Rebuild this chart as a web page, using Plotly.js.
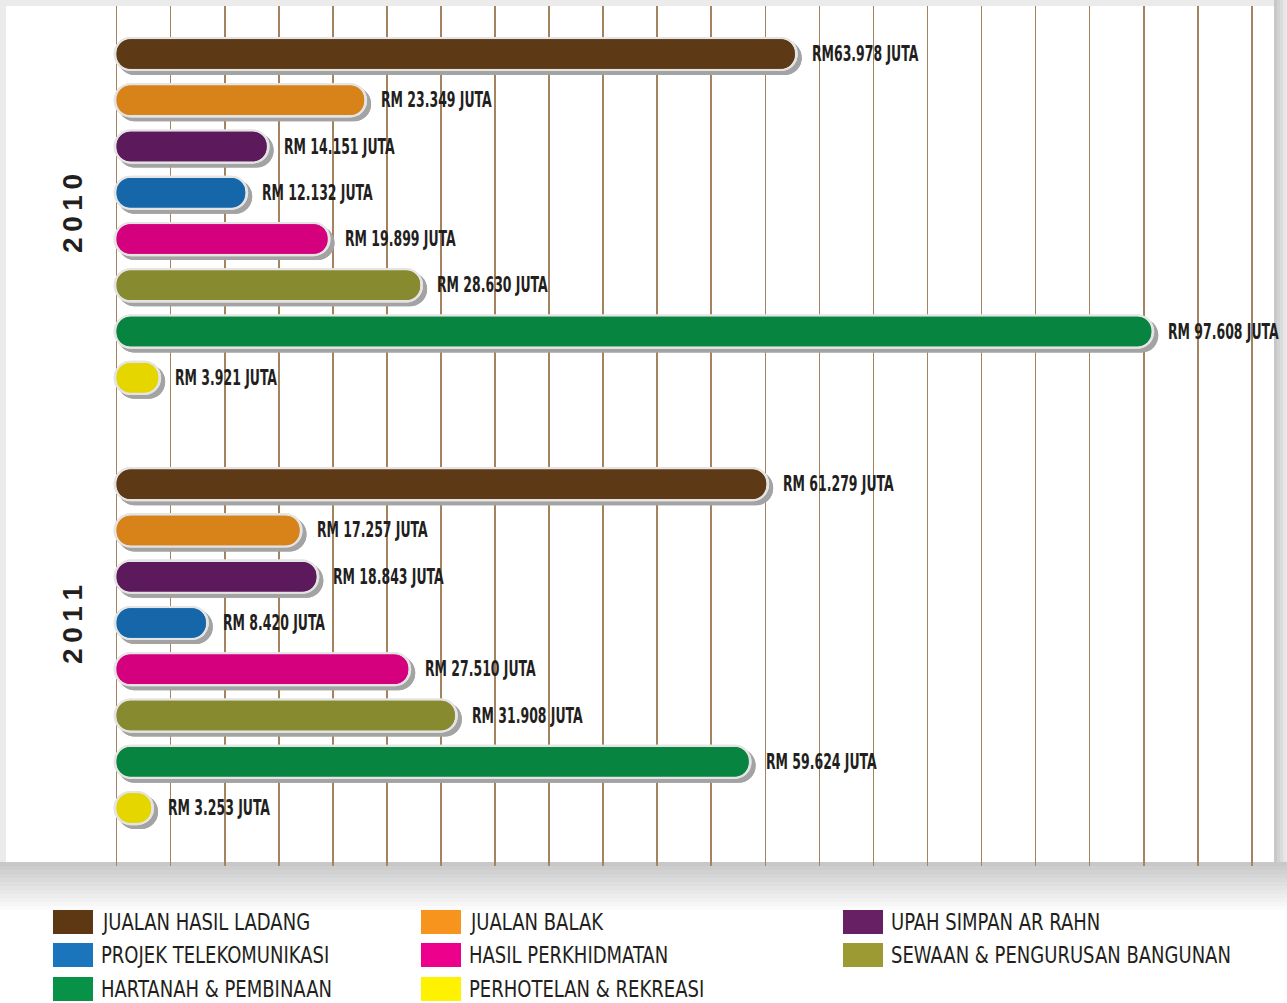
<!DOCTYPE html>
<html>
<head>
<meta charset="utf-8">
<script src="https://cdn.plot.ly/plotly-3.0.1.min.js"></script>
<style>
html,body{margin:0;padding:0;background:#fff;}
#chart{width:1287px;height:1003px;}
</style>
</head>
<body>
<div id="chart"></div>
<script>
// ---- data ----
const categories = ['JUALAN HASIL LADANG', 'JUALAN BALAK', 'UPAH SIMPAN AR RAHN', 'PROJEK TELEKOMUNIKASI',
  'HASIL PERKHIDMATAN', 'SEWAAN & PENGURUSAN BANGUNAN', 'HARTANAH & PEMBINAAN', 'PERHOTELAN & REKREASI'];
const years = ['2010', '2011'];
const values2010 = [63.978, 23.349, 14.151, 12.132, 19.899, 28.630, 97.608, 3.921];
const values2011 = [61.279, 17.257, 18.843, 8.420, 27.510, 31.908, 59.624, 3.253];
const labels2010 = ['RM63.978 JUTA', 'RM 23.349 JUTA', 'RM 14.151 JUTA', 'RM 12.132 JUTA',
  'RM 19.899 JUTA', 'RM 28.630 JUTA', 'RM 97.608 JUTA', 'RM 3.921 JUTA'];
const labels2011 = ['RM 61.279 JUTA', 'RM 17.257 JUTA', 'RM 18.843 JUTA', 'RM 8.420 JUTA',
  'RM 27.510 JUTA', 'RM 31.908 JUTA', 'RM 59.624 JUTA', 'RM 3.253 JUTA'];

// ---- styles ----
const barColors = ['#5e3915', '#d8821a', '#5c1a5c', '#1667aa', '#d4007e', '#878a2e', '#07843f', '#e5d600'];
const legendColors = ['#5e3713', '#f7941d', '#662063', '#1a75bc', '#ec008c', '#9c9a33', '#079247', '#fff200'];

const W = 1287, H = 1003;
const M = {l: 106, r: 10, t: 6, b: 137};
const groupGap = 1.3;

// build rows
const rowY = [], rowX = [], rowC = [], rowL = [];
[values2010, values2011].forEach((vals, g) => {
  const labs = g === 0 ? labels2010 : labels2011;
  vals.forEach((v, i) => {
    rowY.push(i + g * (categories.length + groupGap));
    rowX.push(v);
    rowC.push(barColors[i]);
    rowL.push(labs[i]);
  });
});

const ext = 0.28;     // outline extension (data units)
const shx = 0.38, shy = 0.085;
function pill(xs, ys, color, width, pad, dx) {
  const right = {
    type: 'bar', orientation: 'h', y: ys, x: xs.map(v => v + 2 * pad),
    base: xs.map(() => -pad + dx), width: width,
    marker: {color: color, cornerradius: '50%', line: {width: 0}},
    hoverinfo: 'skip', showlegend: false
  };
  const left = {
    type: 'bar', orientation: 'h', y: ys, x: xs.map(v => -(v + 2 * pad)),
    base: xs.map(v => v + pad + dx), width: width,
    marker: {color: color, cornerradius: '50%', line: {width: 0}},
    hoverinfo: 'skip', showlegend: false
  };
  return [right, left];
}
const traces = [
  ...pill(rowX, rowY.map(y => y + shy), '#a3a3a3', 0.74, ext, shx),
  ...pill(rowX, rowY, '#e4e4e4', 0.74, ext, 0),
  ...pill(rowX, rowY, rowC, 0.64, 0, 0)
];

// px -> paper helpers
const pw = W - M.l - M.r, ph = H - M.t - M.b;
const px = x => (x - M.l) / pw;
const py = y => (H - M.b - y) / ph;

const annotations = rowL.map((t, k) => ({
  x: rowX[k], y: rowY[k], xref: 'x', yref: 'y', text: t, showarrow: false,
  xanchor: 'left', yanchor: 'middle', xshift: 15, align: 'left',
  font: {family: 'DejaVu Sans Condensed, sans-serif', size: 21, color: '#231f20', weight: 'bold'}
}));

// year labels
const yearCenters = [214, 625];
years.forEach((yr, g) => {
  annotations.push({
    x: px(72), xref: 'paper', y: py(yearCenters[g]), yref: 'paper', text: yr.split('').join('\u2009'), showarrow: false,
    textangle: -90, xanchor: 'center', yanchor: 'middle',
    font: {family: 'Liberation Sans, Arial, sans-serif', size: 28, color: '#231f20', weight: 'bold'}
  });
});

// panel shadow shapes
const shapes = [];
shapes.push({type: 'rect', xref: 'paper', yref: 'paper', x0: px(0), x1: px(W), y0: py(0), y1: py(870),
  fillcolor: '#ebebeb', line: {width: 0}, layer: 'below'});
for (let k = 0; k < 12; k++) {
  const c = Math.round(200 + k * 4.6);
  shapes.push({type: 'rect', xref: 'paper', yref: 'paper', x0: px(0), x1: px(W),
    y0: py(862 + (k + 1) * 4), y1: py(862 + k * 4),
    fillcolor: `rgb(${c},${c},${c})`, line: {width: 0}, layer: 'below'});
}
for (let k = 0; k < 4; k++) {
  const c = Math.round(200 + k * 10);
  shapes.push({type: 'rect', xref: 'paper', yref: 'paper', x0: px(1274 + k * 3), x1: px(1274 + (k + 1) * 3),
    y0: py(862), y1: py(0), fillcolor: `rgb(${c},${c},${c})`, line: {width: 0}, layer: 'below'});
}
shapes.push({type: 'rect', xref: 'paper', yref: 'paper', x0: px(6), x1: px(1274), y0: py(862), y1: py(6),
  fillcolor: '#ffffff', line: {width: 0}, layer: 'below'});

// legend (manual, 3 columns)
const legCols = [53, 421, 843];
const legRows = [922, 955, 989];
categories.forEach((c, i) => {
  const col = i % 3, row = Math.floor(i / 3);
  const x0 = legCols[col], yc = legRows[row];
  shapes.push({type: 'rect', xref: 'paper', yref: 'paper', x0: px(x0), x1: px(x0 + 40),
    y0: py(yc + 12), y1: py(yc - 12), fillcolor: legendColors[i], line: {width: 0}});
  annotations.push({x: px(x0 + 46), y: py(yc), xref: 'paper', yref: 'paper', text: c, showarrow: false,
    xanchor: 'left', yanchor: 'middle', align: 'left',
    font: {family: 'DejaVu Sans Condensed, sans-serif', size: 23, color: '#231f20'}});
});

const layout = {
  width: W, height: H, margin: M,
  paper_bgcolor: '#ffffff', plot_bgcolor: 'rgba(0,0,0,0)',
  barmode: 'overlay', showlegend: false,
  xaxis: {range: [-1, 109.47], tick0: 0, dtick: 5.1, showticklabels: false, ticks: '',
    showgrid: true, gridcolor: '#a6835f', gridwidth: 1.6, zeroline: false, showline: false, fixedrange: true},
  yaxis: {range: [17.553, -1.0376], showticklabels: false, ticks: '', showgrid: false,
    zeroline: false, showline: false, fixedrange: true},
  shapes: shapes, annotations: annotations
};

// condense texts horizontally (reference uses a condensed typeface)
function condense() {
  document.querySelectorAll('#chart .annotation-text').forEach(t => {
    const s = t.textContent || '';
    let f = null;
    if (s.startsWith('RM')) f = 0.66;
    else if (categories.includes(s)) f = 0.87;
    if (!f) return;
    const w = t.getComputedTextLength();
    t.setAttribute('lengthAdjust', 'spacingAndGlyphs');
    t.setAttribute('textLength', (w * f).toFixed(1));
  });
}
Plotly.newPlot('chart', traces, layout, {displayModeBar: false, staticPlot: true}).then(condense);
</script>
</body>
</html>
